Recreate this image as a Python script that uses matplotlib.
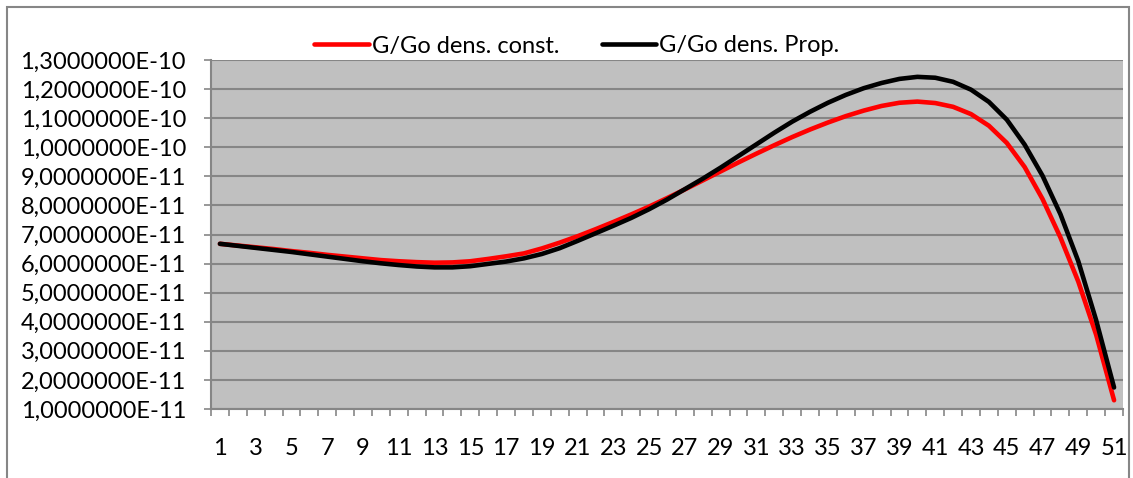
import numpy as np
import matplotlib.pyplot as plt
from matplotlib.patches import Rectangle
from matplotlib.ticker import FuncFormatter

plt.rcParams['font.family'] = ['Lato', 'DejaVu Sans']

# ===================== data (units of 1e-11) =====================
points = np.arange(1, 52)
dens_const = np.array([
    6.68, 6.62, 6.56, 6.50, 6.43, 6.37, 6.30, 6.24, 6.18, 6.12,
    6.08, 6.05, 6.03, 6.04, 6.08, 6.16, 6.25, 6.35, 6.52, 6.72,
    6.94, 7.18, 7.43, 7.69, 7.96, 8.25, 8.55, 8.86, 9.17, 9.48,
    9.78, 10.07, 10.35, 10.61, 10.85, 11.07, 11.26, 11.42, 11.53, 11.57,
    11.52, 11.39, 11.14, 10.74, 10.15, 9.32, 8.22, 6.90, 5.38, 3.55,
    1.30]) * 1e-11
dens_prop = np.array([
    6.68, 6.61, 6.54, 6.47, 6.40, 6.32, 6.24, 6.16, 6.08, 6.01,
    5.95, 5.90, 5.87, 5.87, 5.91, 5.99, 6.07, 6.18, 6.33, 6.53,
    6.78, 7.04, 7.30, 7.57, 7.87, 8.20, 8.56, 8.92, 9.30, 9.70,
    10.10, 10.50, 10.88, 11.22, 11.53, 11.80, 12.03, 12.21, 12.35, 12.42,
    12.39, 12.25, 11.98, 11.56, 10.95, 10.09, 9.02, 7.70, 6.08, 4.05,
    1.74]) * 1e-11
labels = ['G/Go dens. const.', 'G/Go dens. Prop.']
y_ticks = np.arange(1, 14) * 1e-11

# ===================== figure =====================
fig = plt.figure(figsize=(11.33, 4.78), dpi=100)
ax = fig.add_axes([211 / 1133, 1 - 409 / 478, 912 / 1133, 349 / 478])
ax.set_facecolor('#c0c0c0')

ax.plot(points, dens_const, color='#ff0000', linewidth=3.3, label=labels[0],
        solid_capstyle='round', zorder=3)
ax.plot(points, dens_prop, color='#000000', linewidth=3.3, label=labels[1],
        solid_capstyle='round', zorder=4)

ax.set_xlim(0.5, 51.5)
ax.set_ylim(1e-11, 1.3e-10)
ax.set_yticks(y_ticks)
ax.yaxis.set_major_formatter(FuncFormatter(lambda v, p: f"{v:.7E}".replace('.', ',')))
ax.set_xticks(points[::2])
ax.set_xticks(np.arange(0.5, 52, 1), minor=True)

ax.grid(axis='y', color='#868686', linewidth=1.5)
ax.set_axisbelow(True)
for s in ['top', 'right']:
    ax.spines[s].set_visible(False)
for s in ['left', 'bottom']:
    ax.spines[s].set_color('#868686')
    ax.spines[s].set_linewidth(1.5)

ax.tick_params(axis='y', length=5, width=1.2, color='#868686', pad=13, labelsize=17)
ax.tick_params(axis='x', which='major', length=0, pad=21, labelsize=17)
ax.tick_params(axis='x', which='minor', length=5, width=1.2, color='#868686')

fig.legend(loc='center', bbox_to_anchor=(0.509, 1 - 46 / 478), ncol=2,
           frameon=False, fontsize=17, handlelength=2.3, handletextpad=0.12,
           columnspacing=1.8)

# outer chart border
fig.patches.append(Rectangle((7 / 1133, -0.01), 1122 / 1133, 1 - 7 / 478 + 0.01,
                             transform=fig.transFigure, fill=False,
                             edgecolor='#868686', linewidth=1.5))

plt.savefig("out.png", dpi=100)
